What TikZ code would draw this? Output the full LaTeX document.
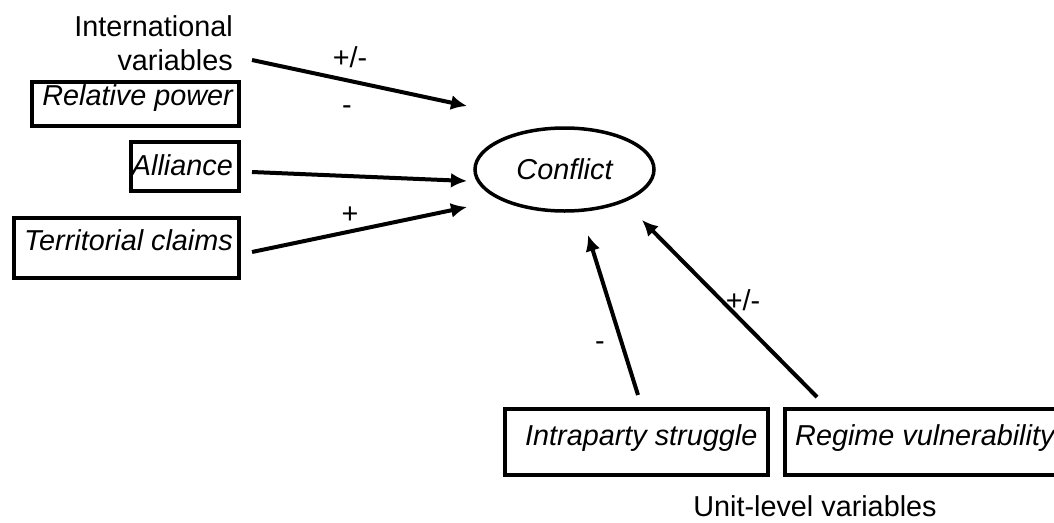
\documentclass[tikz,border=0pt]{standalone}
\usepackage{fontspec}
\setmainfont{Liberation Sans}
\usetikzlibrary{arrows.meta,shapes.geometric}

\begin{document}
\begin{tikzpicture}[x=1pt,y=-1pt,>={Latex[length=16pt,width=15pt]},
  font=\fontsize{28.8}{34}\selectfont,
  box/.style={draw,line width=4.5pt,inner sep=0pt},
  var/.style={inner sep=0pt,font=\fontsize{28.8}{34}\selectfont\itshape},
  arr/.style={->,line width=4pt},
  sign/.style={inner sep=0pt}]
  \useasboundingbox (0,0) rectangle (1054,522);
  \node[inner sep=0pt,align=right,anchor=north east] (intl) at (233,15) {International\\variables};
  \node[box,minimum width=207pt,minimum height=44pt] (relpow) at (135.5,104) {};
  \node[box,minimum width=108pt,minimum height=49pt] (alliance) at (185,166.5) {};
  \node[box,minimum width=225pt,minimum height=60pt] (territory) at (126.5,248) {};
  \node[var,anchor=base east] (relpowtxt) at (233,105) {Relative power};
  \node[var,anchor=base east] (alliancetxt) at (233,175) {Alliance};
  \node[var,anchor=base east] (territorytxt) at (233,250) {Territorial claims};
  \node[draw,ellipse,line width=3.5pt,minimum width=179pt,minimum height=83pt,var] (conflict) at (564.5,169.5) {Conflict};
  \node[box,minimum width=263pt,minimum height=66pt] (intra) at (636.5,442) {};
  \node[box,minimum width=285pt,minimum height=66pt] (regime) at (927.5,442) {};
  \node[var,anchor=base west] (intratxt) at (525,445) {Intraparty struggle};
  \node[var,anchor=base west] (regimetxt) at (795,445) {Regime vulnerability};
  \node[inner sep=0pt,anchor=base] (unit) at (815,516) {Unit-level variables};
  \coordinate (t1) at (252,60);  \coordinate (h1) at (467,106);
  \coordinate (t2) at (252,172); \coordinate (h2) at (467,181);
  \coordinate (t3) at (252,252); \coordinate (h3) at (467,207);
  \coordinate (t4) at (638,395); \coordinate (h4) at (588,235);
  \coordinate (t5) at (817,397); \coordinate (h5) at (642,220);
  \draw[arr] (t1) -- (h1);
  \draw[arr] (t2) -- (h2);
  \draw[arr] (t3) -- (h3);
  \draw[arr] (t4) -- (h4);
  \draw[arr] (t5) -- (h5);
  \node[sign] (s1) at (350,57) {+/-};
  \node[sign] (s2) at (347,110) {-};
  \node[sign] (s3) at (350,215) {+};
  \node[sign] (s4) at (600,346) {-};
  \node[sign] (s5) at (743,300) {+/-};
\end{tikzpicture}
\end{document}
